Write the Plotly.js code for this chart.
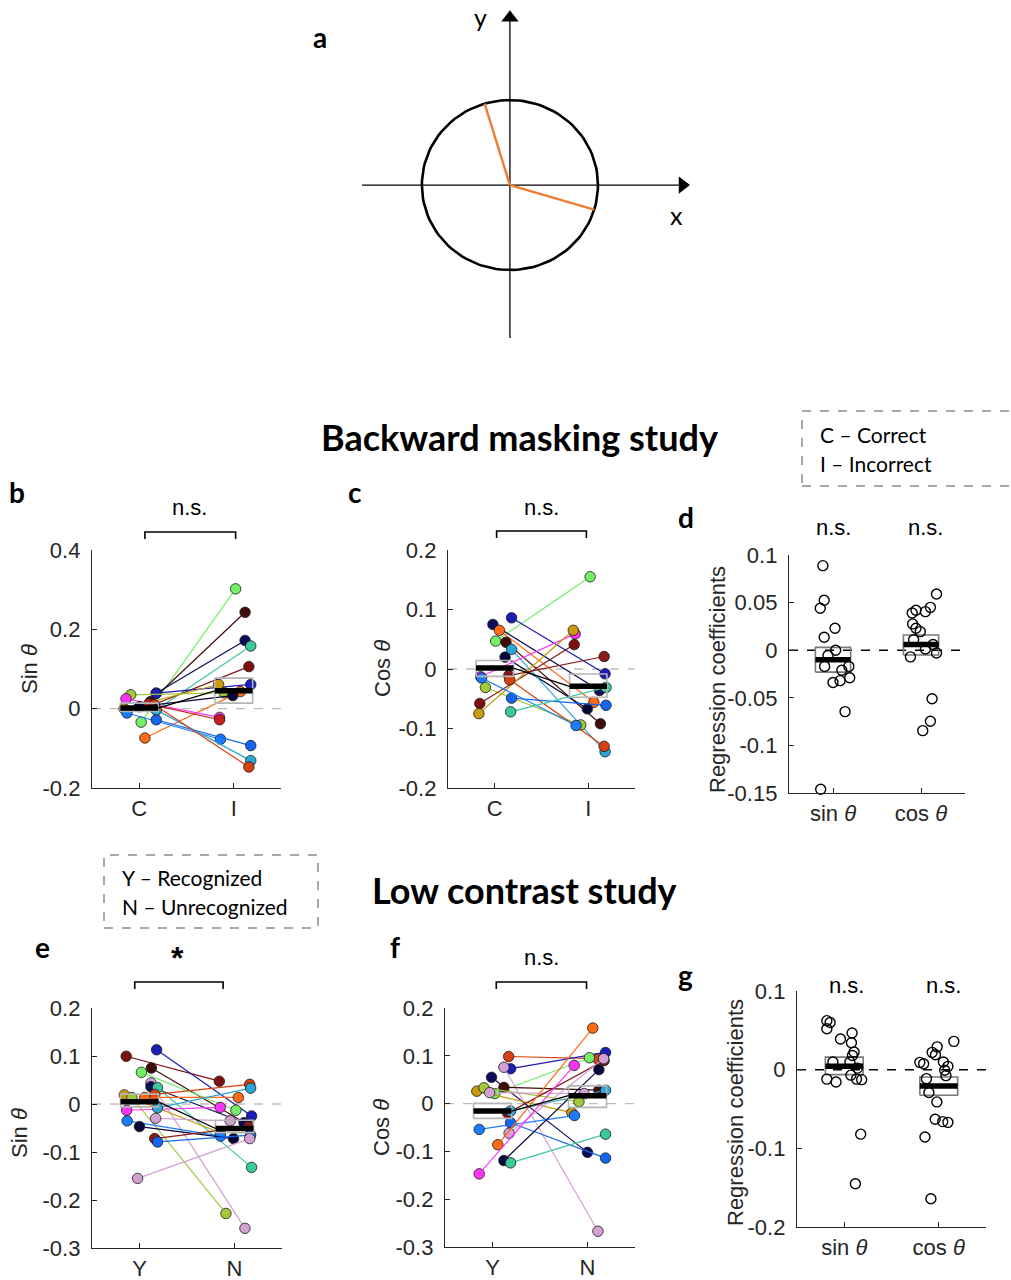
<!DOCTYPE html>
<html><head><meta charset="utf-8">
<script src="https://cdn.plot.ly/plotly-3.0.1.min.js"></script>
<style>html,body{margin:0;padding:0;background:#fff}#chart{width:1011px;height:1280px}</style>
</head><body><div id="chart"></div>
<script>
// ---------------- DATA ----------------
// Panel a: schematic (unit circle, two example angles in degrees)
const aAngles = [106.7, -16.8];
const aRadius = 1;

// Subject colours
const palette = {
  lightgreen:'#74ef68', darkbrown:'#3f0b0b', navy:'#0c0c58', aquamarine:'#3cc99e',
  darkred:'#7f1010', mblue:'#1c1cb8', blue:'#1466f0', azure:'#1a7cff', gold:'#c99a0a',
  yellowgreen:'#a2c93a', orange:'#ff6a14', magenta:'#ff33f5', red:'#c81e1e',
  cyan:'#2ba6d4', orangered:'#d9400f', plum:'#d2a0d2', navy2:'#06063a', darkred2:'#8b1a1a'
};

// Panel b: Sin theta, C vs I
const bColors = ['lightgreen','darkbrown','navy','aquamarine','darkred','mblue','gold','yellowgreen','orange','magenta','red','azure','blue','cyan','orangered','navy2'];
const bC  = [-0.034, 0.018, 0.039, -0.003, 0.010, 0.039, 0.000, 0.035, -0.074, 0.025, 0.012, -0.011, -0.028, -0.003, 0.010, 0.005];
const bI  = [0.302, 0.243, 0.172, 0.158, 0.106, 0.061, 0.061, 0.040, 0.043, -0.022, -0.028, -0.077, -0.093, -0.131, -0.147, 0.033];
const bCj = [0.02, 0.12, 0.18, 0.18, 0.15, 0.18, -0.16, -0.09, 0.06, -0.14, 0.10, -0.13, 0.18, 0.18, 0.16, 0.00];
const bIj = [0.02, 0.12, 0.12, 0.18, 0.16, 0.18, -0.16, -0.10, 0.07, -0.15, -0.15, -0.14, 0.18, 0.18, 0.16, -0.01];
const bMean = [0.0015, 0.045], bLo = [-0.007, 0.014], bHi = [0.014, 0.077];

// Panel c: Cos theta, C vs I
const cColors = ['lightgreen','navy','mblue','orange','darkbrown','navy2','cyan','magenta','yellowgreen','darkred','gold','darkred2','orangered','blue','azure','aquamarine'];
const cC  = [0.047, 0.075, 0.086, 0.065, 0.045, 0.020, 0.033, -0.013, -0.031, -0.058, -0.075, -0.011, -0.018, -0.049, -0.015, -0.072];
const cI  = [0.155, -0.036, -0.008, -0.056, -0.092, -0.067, -0.139, 0.059, -0.094, 0.041, 0.065, 0.021, -0.130, -0.061, -0.095, -0.031];
const cCj = [0.01, -0.02, 0.18, 0.05, 0.12, 0.11, 0.18, -0.15, -0.10, -0.16, -0.17, 0.15, 0.16, 0.18, -0.14, 0.17];
const cIj = [0.02, 0.12, 0.18, 0.06, 0.13, -0.01, 0.18, -0.14, -0.08, -0.15, -0.16, 0.17, 0.17, 0.19, -0.13, 0.19];
const cMean = [0.0016, -0.029], cLo = [-0.0124, -0.0476], cHi = [0.0144, -0.0085];

// Panel d: regression coefficients (backward masking)
const dSin  = [0.0888, 0.0524, 0.044, 0.0136, 0.023, -0.0001, -0.0057, -0.017, -0.017, -0.021, -0.029, -0.032, -0.034, -0.0645, -0.146];
const dSinJ = [-0.115, -0.10, -0.145, -0.10, 0.023, 0.03, -0.057, -0.095, 0.18, 0.10, 0.19, 0.08, 0.0, 0.137, -0.14];
const dCos  = [0.059, 0.039, 0.042, 0.045, 0.0405, 0.0276, 0.023, 0.0195, 0.011, 0.0013, -0.003, -0.007, -0.051, -0.0747, -0.0845, 0.006];
const dCosJ = [0.176, -0.10, -0.057, 0.107, 0.05, -0.095, -0.057, -0.008, -0.084, 0.05, 0.176, -0.12, 0.126, 0.107, 0.02, 0.137];
const dMean = [-0.010, 0.006], dLo = [-0.023, -0.005], dHi = [0.003, 0.016];

// Panel e: Sin theta, Y vs N
const eColors = ['darkred','mblue','darkbrown','lightgreen','plum','navy','aquamarine','orangered','gold','yellowgreen','orange','magenta','cyan','plum','azure','navy2','darkred2','blue','plum'];
const eY  = [0.0995, 0.113, 0.075, 0.066, 0.044, 0.036, 0.034, 0.020, 0.019, 0.0136, 0.0136, -0.013, -0.008, -0.030, -0.035, -0.047, -0.072, -0.079, -0.155];
const eN  = [0.0475, -0.025, -0.042, -0.013, -0.259, -0.039, -0.132, 0.041, -0.060, -0.228, 0.0136, -0.007, 0.033, -0.035, -0.067, -0.072, -0.047, -0.065, -0.072];
const eYj = [-0.14, 0.18, 0.125, 0.02, 0.12, 0.12, 0.19, 0.16, -0.16, -0.08, 0.055, -0.135, 0.19, 0.17, -0.13, 0.0, 0.16, 0.19, -0.02];
const eNj = [-0.16, 0.18, 0.135, 0.015, 0.11, 0.10, 0.18, 0.16, -0.15, -0.09, 0.04, -0.15, 0.17, -0.045, -0.146, -0.01, 0.146, 0.17, 0.16];
const eMean = [0.0046, -0.051], eLo = [-0.006, -0.060], eHi = [0.0205, -0.034];

// Panel f: Cos theta, Y vs N
const fColors = ['orangered','mblue','lightgreen','plum','navy','darkbrown','gold','yellowgreen','plum','darkred','cyan','azure','blue','plum','orange','navy2','aquamarine','magenta'];
const fY  = [0.0985, 0.073, 0.021, 0.076, 0.055, 0.034, 0.026, 0.033, 0.023, -0.020, -0.0155, -0.054, -0.040, -0.062, -0.086, -0.119, -0.124, -0.147];
const fN  = [0.094, 0.107, 0.096, -0.267, -0.102, 0.028, -0.019, 0.004, 0.021, 0.090, 0.028, -0.025, -0.114, 0.094, 0.158, 0.071, -0.064, 0.080];
const fYj = [0.17, 0.19, 0.025, 0.12, -0.01, 0.12, -0.165, -0.09, -0.03, 0.16, 0.19, -0.14, 0.19, 0.175, 0.056, 0.12, 0.19, -0.14];
const fNj = [0.105, 0.19, 0.02, 0.11, 0.0, 0.12, -0.165, -0.09, -0.035, 0.175, 0.19, -0.137, 0.19, 0.17, 0.056, 0.12, 0.19, -0.14];
const fMean = [-0.0155, 0.0165], fLo = [-0.031, -0.008], fHi = [0.0005, 0.037];

// Panel g: regression coefficients (low contrast)
const gSin  = [0.0623, 0.060, 0.052, 0.039, 0.0466, 0.0343, 0.0225, 0.018, 0.0097, 0.0097, 0.002, -0.012, -0.0157, -0.007, -0.012, -0.0127, -0.082, -0.145];
const gSinJ = [-0.184, -0.15, -0.184, -0.04, 0.083, 0.076, 0.104, 0.087, -0.12, 0.06, 0.14, -0.184, -0.087, 0.07, 0.13, 0.184, 0.174, 0.118];
const gCos  = [0.0093, 0.0076, 0.022, 0.029, 0.019, 0.036, 0.0098, 0.0042, -0.0008, -0.0076, -0.0114, -0.029, -0.041, -0.063, -0.066, -0.067, -0.0856, -0.164];
const gCosJ = [-0.2, -0.16, -0.07, -0.017, -0.035, 0.16, 0.049, 0.097, 0.063, 0.076, -0.13, -0.104, -0.02, -0.038, 0.042, 0.097, -0.146, -0.083];
const gMean = [0.0042, -0.0208], gLo = [-0.0063, -0.0326], gHi = [0.016, -0.0093];

// Tick labels
const tickCI = ['C','I'];
const tickYN = ['Y','N'];
const tickSC = ['sin <i>θ</i>','cos <i>θ</i>'];
const yt_b = [-0.2, 0, 0.2, 0.4],            yl_b = ['-0.2','0','0.2','0.4'];
const yt_c = [-0.2, -0.1, 0, 0.1, 0.2],      yl_c = ['-0.2','-0.1','0','0.1','0.2'];
const yt_d = [-0.15,-0.1,-0.05,0,0.05,0.1],  yl_d = ['-0.15','-0.1','-0.05','0','0.05','0.1'];
const yt_ef = [-0.3,-0.2,-0.1,0,0.1,0.2],    yl_ef = ['-0.3','-0.2','-0.1','0','0.1','0.2'];
const yt_g = [-0.2,-0.1,0,0.1],              yl_g = ['-0.2','-0.1','0','0.1'];

// ---------------- LAYOUT HELPERS ----------------
const W = 1011, H = 1280;
const FA = 'Liberation Sans, Arial, sans-serif';
const FT = 'Lato, Open Sans, sans-serif';
const AX = '#262626';
const fx = p => p / W, fy = p => 1 - p / H;

const layout = {
  width: W, height: H, margin: {l:0, r:0, t:0, b:0},
  paper_bgcolor: '#fff', plot_bgcolor: 'rgba(0,0,0,0)',
  showlegend: false, shapes: [], annotations: []
};
const traces = [];

function axPair(k, xpx, ypx, yrange, yvals, ylabs, xlabs) {
  const sx = 'xaxis' + k, sy = 'yaxis' + k;
  layout[sx] = {
    domain: [fx(xpx[0]), fx(xpx[1])], range: [0.5, 2.5], anchor: 'y' + k,
    showline: true, linecolor: AX, linewidth: 1.2, ticks: 'inside', ticklen: 5, tickcolor: AX,
    tickvals: [1, 2], ticktext: xlabs, tickfont: {family: FA, size: 22, color: AX},
    showgrid: false, zeroline: false, fixedrange: true, ticklabelstandoff: 0
  };
  layout[sy] = {
    domain: [fy(ypx[1]), fy(ypx[0])], range: yrange, anchor: 'x' + k,
    showline: true, linecolor: AX, linewidth: 1.2, ticks: 'inside', ticklen: 5, tickcolor: AX,
    tickvals: yvals, ticktext: ylabs, tickfont: {family: FA, size: 22, color: AX},
    showgrid: false, zeroline: false, fixedrange: true, ticklabelstandoff: 6
  };
}

function zeroLine(k, color, dash, width) {
  layout.shapes.push({type:'line', xref:'x'+k+' domain', yref:'y'+k, x0:0, x1:1, y0:0, y1:0,
    line:{color:color, dash:dash, width:width}, layer:'below'});
}

function pairedPanel(k, colors, v1, v2, j1, j2, mean, lo, hi) {
  for (let i = 0; i < v1.length; i++) {
    const col = palette[colors[i]];
    traces.push({type:'scatter', mode:'lines+markers', xaxis:'x'+k, yaxis:'y'+k,
      x:[1 + j1[i], 2 + j2[i]], y:[v1[i], v2[i]], cliponaxis:false,
      line:{color:col, width:1.2}, marker:{color:col, size:10.5, line:{color:'#1a1a1a', width:0.8}},
      hoverinfo:'skip'});
  }
  summary(k, mean, lo, hi, '#b5b5b5', true);
}

function summary(k, mean, lo, hi, boxColor, connect) {
  for (let c = 0; c < 2; c++) {
    const x0 = c + 1 - 0.2, x1 = c + 1 + 0.2;
    traces.push({type:'scatter', mode:'lines', xaxis:'x'+k, yaxis:'y'+k,
      x:[x0, x1, x1, x0, x0], y:[lo[c], lo[c], hi[c], hi[c], lo[c]],
      line:{color:boxColor, width:1.6}, hoverinfo:'skip'});
    traces.push({type:'scatter', mode:'lines', xaxis:'x'+k, yaxis:'y'+k,
      x:[x0, x1], y:[mean[c], mean[c]], line:{color:'#000', width:5.5}, hoverinfo:'skip'});
  }
  if (connect) {
    traces.push({type:'scatter', mode:'lines', xaxis:'x'+k, yaxis:'y'+k,
      x:[1.2, 1.8], y:[mean[0], mean[1]], line:{color:'#000', width:1.3}, hoverinfo:'skip'});
  }
}

function coefPanel(k, sv, sj, cv, cj, mean, lo, hi) {
  summary(k, mean, lo, hi, '#7a7a7a', false);
  traces.push({type:'scatter', mode:'markers', xaxis:'x'+k, yaxis:'y'+k, cliponaxis:false,
    x: sj.map(j => 1 + j), y: sv, marker:{symbol:'circle-open', size:10, color:'#000', line:{width:1.4}}, hoverinfo:'skip'});
  traces.push({type:'scatter', mode:'markers', xaxis:'x'+k, yaxis:'y'+k, cliponaxis:false,
    x: cj.map(j => 2 + j), y: cv, marker:{symbol:'circle-open', size:10, color:'#000', line:{width:1.4}}, hoverinfo:'skip'});
}

function bracket(k, x0, x1, ytopPx, ybotPx) {
  layout.shapes.push({type:'path', xref:'x'+k, yref:'paper',
    path:`M ${x0},${fy(ybotPx)} L ${x0},${fy(ytopPx)} L ${x1},${fy(ytopPx)} L ${x1},${fy(ybotPx)}`,
    line:{color:'#000', width:1.6}});
}

function ann(text, px, py, font, extra) {
  layout.annotations.push(Object.assign({text:text, x:fx(px), y:fy(py), xref:'paper', yref:'paper',
    showarrow:false, xanchor:'center', yanchor:'middle', font:font}, extra || {}));
}

// ---------------- PANEL a ----------------
const aX = [-1.68, 2.045], aY = [-1.8, 2.06];
layout.xaxis = {domain:[fx(362), fx(690)], range:aX, visible:false, anchor:'y', fixedrange:true};
layout.yaxis = {domain:[fy(338), fy(10)], range:aY, visible:false, anchor:'x', fixedrange:true};
traces.push({type:'scatter', mode:'lines', x:[aX[0], 1.93], y:[0, 0], line:{color:'#000', width:1.3}, hoverinfo:'skip', cliponaxis:false});
traces.push({type:'scatter', mode:'lines', x:[0, 0], y:[aY[0], 1.93], line:{color:'#000', width:1.3}, hoverinfo:'skip', cliponaxis:false});
traces.push({type:'scatter', mode:'markers', x:[1.96], y:[0], marker:{symbol:'triangle-right', size:15, color:'#000'}, hoverinfo:'skip', cliponaxis:false});
traces.push({type:'scatter', mode:'markers', x:[0], y:[1.97], marker:{symbol:'triangle-up', size:15, color:'#000'}, hoverinfo:'skip', cliponaxis:false});
const circX = [], circY = [];
for (let t = 0; t <= 360; t += 3) { circX.push(aRadius * Math.cos(t * Math.PI / 180)); circY.push(aRadius * Math.sin(t * Math.PI / 180)); }
traces.push({type:'scatter', mode:'lines', x:circX, y:circY, line:{color:'#000', width:2.6}, hoverinfo:'skip'});
aAngles.forEach(a => {
  traces.push({type:'scatter', mode:'lines', x:[0, aRadius * Math.cos(a * Math.PI / 180)], y:[0, aRadius * Math.sin(a * Math.PI / 180)],
    line:{color:'#ed7d31', width:2.4}, hoverinfo:'skip'});
});

// ---------------- PANELS b-g ----------------
axPair(2, [92, 281], [550, 788], [-0.2, 0.4], yt_b, yl_b, tickCI);
axPair(3, [448, 635], [550, 788], [-0.2, 0.2], yt_c, yl_c, tickCI);
axPair(4, [789, 965], [555, 793], [-0.15, 0.1], yt_d, yl_d, tickSC);
axPair(5, [92, 282], [1008, 1248], [-0.3, 0.2], yt_ef, yl_ef, tickYN);
axPair(6, [445, 635], [1008, 1247], [-0.3, 0.2], yt_ef, yl_ef, tickYN);
axPair(7, [797, 986], [991, 1227], [-0.2, 0.1], yt_g, yl_g, tickSC);

zeroLine(2, '#bdbdbd', 'dash', 1.3);
zeroLine(3, '#bdbdbd', 'dash', 1.3);
zeroLine(5, '#bdbdbd', 'dash', 1.3);
zeroLine(6, '#bdbdbd', 'dash', 1.3);
zeroLine(4, '#000', 'dash', 1.5);
zeroLine(7, '#000', 'dash', 1.5);

pairedPanel(2, bColors, bC, bI, bCj, bIj, bMean, bLo, bHi);
pairedPanel(3, cColors, cC, cI, cCj, cIj, cMean, cLo, cHi);
pairedPanel(5, eColors, eY, eN, eYj, eNj, eMean, eLo, eHi);
pairedPanel(6, fColors, fY, fN, fYj, fNj, fMean, fLo, fHi);
coefPanel(4, dSin, dSinJ, dCos, dCosJ, dMean, dLo, dHi);
coefPanel(7, gSin, gSinJ, gCos, gCosJ, gMean, gLo, gHi);

bracket(2, 1.06, 2.02, 532, 539);
bracket(3, 1.02, 1.98, 531, 538);
bracket(5, 0.95, 1.88, 982, 989);
bracket(6, 1.04, 1.99, 982, 989);

// ---------------- TEXT ----------------
const fAx = {family: FA, size: 22, color: AX};
const fNs = {family: FA, size: 22, color: '#000'};
const fLet = {family: FT, size: 28, color: '#000', weight: 'bold'};
const fTitle = {family: FT, size: 36, color: '#000', weight: 'bold'};
const fLeg = {family: FT, size: 21, color: '#000'};

ann('a', 320, 37, fLet); ann('b', 17, 492, fLet); ann('c', 355, 492, fLet); ann('d', 686, 517, fLet);
ann('e', 42, 947, fLet); ann('f', 395, 947, fLet); ann('g', 685, 975, fLet);
ann('y', 480, 17, {family: FT, size: 25, color: '#000'});
ann('x', 676, 215, {family: FT, size: 25, color: '#000'});

ann('Backward masking study', 519, 437, fTitle);
ann('Low contrast study', 524, 890, fTitle);

ann('n.s.', 189, 507, fNs); ann('n.s.', 541, 507, fNs);
ann('n.s.', 833, 527, fNs); ann('n.s.', 925, 527, fNs);
ann('*', 177, 958, {family: FA, size: 32, color: '#000', weight: 'bold'});
ann('n.s.', 541, 957, fNs);
ann('n.s.', 846, 985, fNs); ann('n.s.', 943, 985, fNs);

ann('Sin <i>θ</i>', 29, 669, fAx, {textangle: -90});
ann('Cos <i>θ</i>', 382, 669, fAx, {textangle: -90});
ann('Regression coefficients', 717, 680, fAx, {textangle: -90});
ann('Sin <i>θ</i>', 19, 1133, fAx, {textangle: -90});
ann('Cos <i>θ</i>', 381, 1128, fAx, {textangle: -90});
ann('Regression coefficients', 735, 1113, fAx, {textangle: -90});

layout.shapes.push({type:'rect', xref:'paper', yref:'paper', x0:fx(802), x1:fx(1030), y0:fy(486), y1:fy(411),
  line:{color:'#8c8c8c', width:1.5, dash:'dash'}});
layout.shapes.push({type:'rect', xref:'paper', yref:'paper', x0:fx(104), x1:fx(318), y0:fy(928), y1:fy(855),
  line:{color:'#8c8c8c', width:1.5, dash:'dash'}});
ann('C – Correct', 818, 434, fLeg, {xanchor:'left'});
ann('I – Incorrect', 818, 463, fLeg, {xanchor:'left'});
ann('Y – Recognized', 120, 877, fLeg, {xanchor:'left'});
ann('N – Unrecognized', 120, 906, fLeg, {xanchor:'left'});

Plotly.newPlot('chart', traces, layout, {staticPlot: true, displayModeBar: false});
</script></body></html>
